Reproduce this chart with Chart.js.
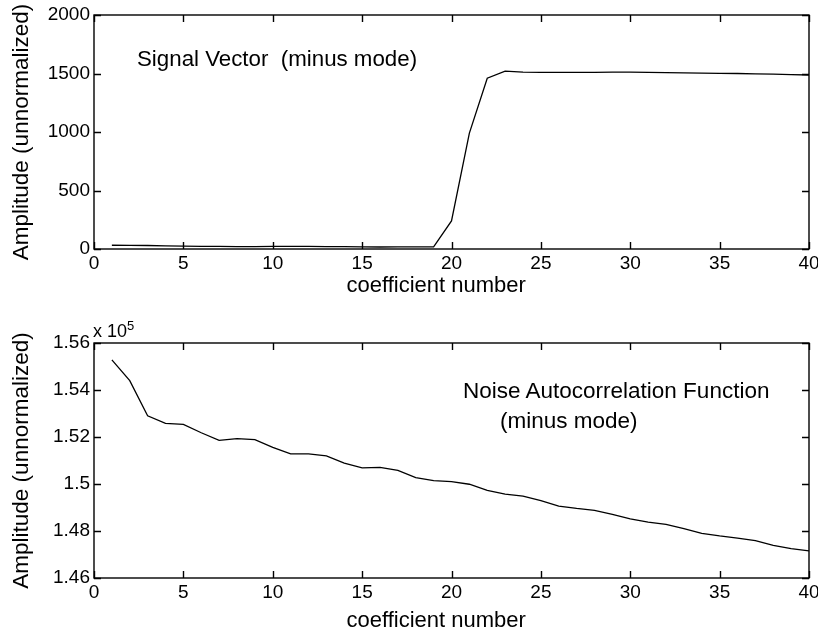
<!DOCTYPE html>
<html>
<head>
<meta charset="UTF-8">
<title>Signal vector and noise autocorrelation</title>
<style>
  body { margin: 0; background: #fff; width: 818px; height: 635px; position: relative; overflow: hidden; }
  canvas { position: absolute; left: 0; }
  .note { position: absolute; font-family: "Liberation Sans", Arial, sans-serif; color: #000; white-space: pre; line-height: 1; }
</style>
</head>
<body>
<canvas id="topChart" width="818" height="317" style="top:0"></canvas>
<canvas id="bottomChart" width="818" height="318" style="top:317px"></canvas>

<div class="note" style="left:137px; top:48px; font-size:22.3px;">Signal Vector  (minus mode)</div>
<div class="note" style="left:463px; top:380px; font-size:22.5px;">Noise Autocorrelation Function</div>
<div class="note" style="left:500px; top:410px; font-size:22.5px;">(minus mode)</div>
<div class="note" style="left:93px; top:319px; font-size:18px;">x 10<sup style="font-size:13px; vertical-align:7px;">5</sup></div>

<script src="https://cdn.jsdelivr.net/npm/chart.js@4.4.0/dist/chart.umd.min.js"></script>
<script>
// coefficient index (x axis, both panels)
var coeffs = [1, 2, 3, 4, 5, 6, 7, 8, 9, 10,
              11, 12, 13, 14, 15, 16, 17, 18, 19, 20,
              21, 22, 23, 24, 25, 26, 27, 28, 29, 30,
              31, 32, 33, 34, 35, 36, 37, 38, 39, 40];

// signal vector, minus mode
var signalVec = [32, 31, 30, 26, 24, 22, 22, 21, 21, 22,
                 23, 22, 21, 20, 18, 17, 18, 19, 18, 240,
                 990, 1460, 1520, 1512, 1510, 1510, 1509, 1510, 1511, 1512,
                 1510, 1507, 1505, 1503, 1501, 1500, 1497, 1494, 1491, 1487];

// noise autocorrelation, minus mode
var noiseAcf = [155280, 154400, 152900, 152580, 152540, 152180, 151860, 151930, 151890, 151560,
                151280, 151280, 151200, 150890, 150690, 150710, 150580, 150270, 150140, 150100,
                149990, 149730, 149570, 149480, 149290, 149060, 148960, 148880, 148710, 148520,
                148380, 148280, 148100, 147900, 147790, 147700, 147590, 147390, 147250, 147150];

var xTicks = [0, 5, 10, 15, 20, 25, 30, 35, 40];

var FONT = '"Liberation Sans", Arial, sans-serif';

// matlab style box with ticks pointing inward on all four sides
var innerTicks = {
  id: 'innerTicks',
  afterDraw: function(chart) {
    var ctx = chart.ctx, a = chart.chartArea;
    var x = chart.scales.x, y = chart.scales.y;
    var len = 7;
    ctx.save();
    ctx.strokeStyle = '#000';
    ctx.lineWidth = 1.4;
    ctx.strokeRect(a.left, a.top, a.right - a.left, a.bottom - a.top);
    ctx.beginPath();
    x.ticks.forEach(function(t) {
      var px = Math.round(x.getPixelForValue(t.value)) + 0.5;
      ctx.moveTo(px, a.bottom); ctx.lineTo(px, a.bottom - len);
      ctx.moveTo(px, a.top); ctx.lineTo(px, a.top + len);
    });
    y.ticks.forEach(function(t) {
      var py = Math.round(y.getPixelForValue(t.value)) + 0.5;
      ctx.moveTo(a.left, py); ctx.lineTo(a.left + len, py);
      ctx.moveTo(a.right, py); ctx.lineTo(a.right - len, py);
    });
    ctx.stroke();
    ctx.restore();
  }
};

function makeChart(id, values, yMin, yMax, yStep, yFmt, pad, xAxisH, xTitlePad) {
  var pts = coeffs.map(function(c, i) { return {x: c, y: values[i]}; });
  return new Chart(document.getElementById(id), {
    type: 'line',
    data: {
      datasets: [{
        data: pts,
        borderColor: '#000',
        borderWidth: 1.3,
        pointRadius: 0,
        tension: 0,
        fill: false
      }]
    },
    options: {
      responsive: false,
      animation: false,
      devicePixelRatio: 1,
      layout: { padding: pad },
      plugins: { legend: { display: false }, tooltip: { enabled: false } },
      scales: {
        x: {
          type: 'linear',
          min: 0, max: 40,
          afterBuildTicks: function(s) { s.ticks = xTicks.map(function(v) { return {value: v}; }); },
          afterFit: function(s) { s.height = xAxisH; s.paddingLeft = 0; s.paddingRight = 0; },
          grid: { display: false, drawTicks: false },
          border: { display: false },
          ticks: { color: '#000', padding: 3, maxRotation: 0, autoSkip: false, font: { family: FONT, size: 19 } },
          // trailing spaces nudge the centred title a little left, as in the original
          title: { display: true, text: 'coefficient number\u00a0\u00a0\u00a0\u00a0\u00a0', color: '#000',
                   font: { family: FONT, size: 22 }, padding: { top: 0, bottom: xTitlePad } }
        },
        y: {
          min: yMin, max: yMax,
          ticks: { stepSize: yStep, color: '#000', padding: 4, autoSkip: false,
                   font: { family: FONT, size: 19 }, callback: yFmt },
          afterFit: function(s) { s.width = 94; s.paddingTop = 0; s.paddingBottom = 0; },
          grid: { display: false, drawTicks: false },
          border: { display: false },
          title: { display: true, text: 'Amplitude (unnormalized)', color: '#000',
                   font: { family: FONT, size: 22.5 }, padding: { top: 8, bottom: 0 } }
        }
      }
    },
    plugins: [innerTicks]
  });
}

makeChart('topChart', signalVec, 0, 2000, 500,
  function(v) { return String(v); },
  { top: 15, right: 9, left: 0, bottom: 0 }, 68, 18);

makeChart('bottomChart', noiseAcf, 146000, 156000, 2000,
  function(v) { return String(Number((v / 1e5).toFixed(2))); },
  { top: 26, right: 9, left: 0, bottom: 0 }, 57, 1);
</script>
</body>
</html>
